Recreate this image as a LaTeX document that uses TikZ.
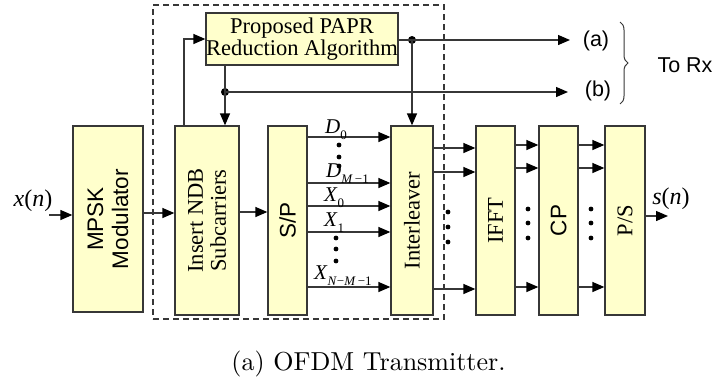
\documentclass[tikz,border=0pt]{standalone}
\usepackage{fontspec}
\newfontfamily\tms{Liberation Serif}
\newfontfamily\arl{Liberation Sans}
\newfontfamily\capfont{lmroman10-regular}[Extension=.otf]
\usetikzlibrary{arrows.meta,decorations.pathreplacing}
\definecolor{boxfill}{RGB}{255,255,204}
\definecolor{lnc}{RGB}{55,55,55}
\newcommand\mysub[1]{\raisebox{-0.3em}{\fontsize{13}{13}\selectfont #1}}
\begin{document}
\begin{tikzpicture}[x=1pt,y=-1pt,
 blk/.style={draw=lnc, line width=1.3pt, fill=boxfill, inner sep=0pt},
 arr/.style={draw=lnc, line width=1.3pt, -{Triangle[length=12pt,width=10pt,fill=black,color=black]}},
 plain/.style={draw=lnc, line width=1.3pt},
 sdot/.style={circle, fill=black, inner sep=0pt, minimum size=4.8pt},
 jdot/.style={circle, fill=black, inner sep=0pt, minimum size=8pt},
 vtxt/.style={rotate=90, align=center, inner sep=0pt},
 serif/.style={font=\tms\fontsize{22.5}{23}\selectfont},
 sans/.style={font=\arl\fontsize{22.5}{25}\selectfont},
 lab/.style={font=\tms\fontsize{21}{21}\selectfont, inner sep=0pt, anchor=base west},
]
\useasboundingbox (0,0) rectangle (717,381);
% dashed region
\node[draw=lnc, dash pattern=on 6pt off 4pt, line width=1.1pt, minimum width=291pt, minimum height=314pt, inner sep=0pt] (dbox) at (298.5,162) {};
% blocks
\node[blk, minimum width=70pt, minimum height=186pt] (mpsk) at (108,219) {};
\node[vtxt, sans] (mpskt) at (mpsk.center) {MPSK\\Modulator};
\node[blk, minimum width=64pt, minimum height=189pt] (ndb) at (207,220.5) {};
\node[vtxt, serif] (ndbt) at (ndb.center) {Insert NDB\\Subcarriers};
\node[blk, minimum width=39pt, minimum height=189pt] (sp) at (287.5,220.5) {};
\node[vtxt, sans] (spt) at (sp.center) {S/P};
\node[blk, minimum width=42pt, minimum height=189pt] (intl) at (412,220.5) {};
\node[vtxt, serif] (intlt) at (intl.center) {Interleaver};
\node[blk, minimum width=39pt, minimum height=189pt] (ifft) at (495.5,220.5) {};
\node[vtxt, serif] (ifftt) at (ifft.center) {IFFT};
\node[blk, minimum width=39pt, minimum height=189pt] (cp) at (558.5,220.5) {};
\node[vtxt, sans] (cpt) at (cp.center) {CP};
\node[blk, minimum width=40pt, minimum height=189pt] (ps) at (625,220.5) {};
\node[vtxt, serif] (pst) at (ps.center) {P/S};
\node[blk, minimum width=192pt, minimum height=52pt, align=center, font=\tms\fontsize{22.5}{19.5}\selectfont] (papr) at (302,39) {Proposed PAPR\\Reduction Algorithm};
% input / output
\coordinate (xin) at (49,215);
\node[font=\tms\fontsize{24}{24}\selectfont, inner sep=0pt] (xl) at (33,201) {\textit{x}(\textit{n})};
\draw[arr] (xin) -- (xin -| mpsk.west);
\draw[arr] (mpsk.east |- 0,213) -- (ndb.west |- 0,213);
\draw[arr] (ndb.east |- 0,212) -- (sp.west |- 0,212);
\coordinate (sout) at (668,216);
\draw[arr] (ps.east |- sout) -- (sout);
\node[font=\tms\fontsize{24}{24}\selectfont, inner sep=0pt] (sl) at (671,199) {\textit{s}(\textit{n})};
% S/P outputs
\foreach \y in {137,183,206,232,287} \draw[arr] (sp.east |- 0,\y) -- (intl.west |- 0,\y);
\node[lab] (ld0) at (325,133) {\textit{D}\mysub{0}};
\node[lab] (ldm) at (326,177) {\textit{D}\mysub{\textit{M}\,−1}};
\node[lab] (lx0) at (324,201) {\textit{X}\mysub{0}};
\node[lab] (lx1) at (324,226) {\textit{X}\mysub{1}};
\node[lab] (lxn) at (314,279) {\textit{X}\mysub{\textit{N}−\textit{M}\,−1}};
\node[sdot] (a1) at (339,145) {};
\node[sdot] (a2) at (339,157) {};
\node[sdot] (a3) at (339,166) {};
\node[sdot] (b1) at (336,238) {};
\node[sdot] (b2) at (336,249) {};
\node[sdot] (b3) at (336,261) {};
% interleaver outputs
\foreach \y in {148,172,289} \draw[arr] (intl.east |- 0,\y) -- (ifft.west |- 0,\y);
\foreach \y in {145,168,287} \draw[arr] (ifft.east |- 0,\y) -- (cp.west |- 0,\y);
\foreach \y in {145,168,287} \draw[arr] (cp.east |- 0,\y) -- (ps.west |- 0,\y);
\node[sdot] (c1) at (448,212) {};
\node[sdot] (c2) at (448,227) {};
\node[sdot] (c3) at (448,242) {};
\node[sdot] (e1) at (528,209) {};
\node[sdot] (e2) at (528,223) {};
\node[sdot] (e3) at (528,238) {};
\node[sdot] (f1) at (591,209) {};
\node[sdot] (f2) at (591,223) {};
\node[sdot] (f3) at (591,238) {};
% PAPR connections
\draw[arr] (ndb.north -| 184,0) |- (papr.west);
\node[jdot] (j1) at (225,92) {};
\node[jdot] (j2) at (412,40) {};
\coordinate (ea) at (570,40);
\coordinate (eb) at (568,92);
\draw[arr] (papr.south -| j1) -- (ndb.north -| j1);
\draw[arr] (j1.center) -- (eb);
\draw[plain] (papr.east |- j2) -- (j2.center);
\draw[arr] (j2.center) -- (ea);
\draw[arr] (j2.center) -- (intl.north);
\node[font=\arl\fontsize{21.5}{21.5}\selectfont, inner sep=0pt] (la) at (596,41) {(a)};
\node[font=\arl\fontsize{21.5}{21.5}\selectfont, inner sep=0pt] (lb) at (598,91) {(b)};
\draw[lnc, line width=1pt, decorate, decoration={brace, amplitude=8pt}] (620,22) -- (620,104);
\node[font=\arl\fontsize{21.5}{21.5}\selectfont, inner sep=0pt] (rx) at (685,65) {To Rx};
% caption
\node[font=\capfont\fontsize{26}{26}\selectfont, inner sep=0pt, anchor=base] (cap) at (368.5,370) {(a) OFDM Transmitter.};
\end{tikzpicture}
\end{document}
